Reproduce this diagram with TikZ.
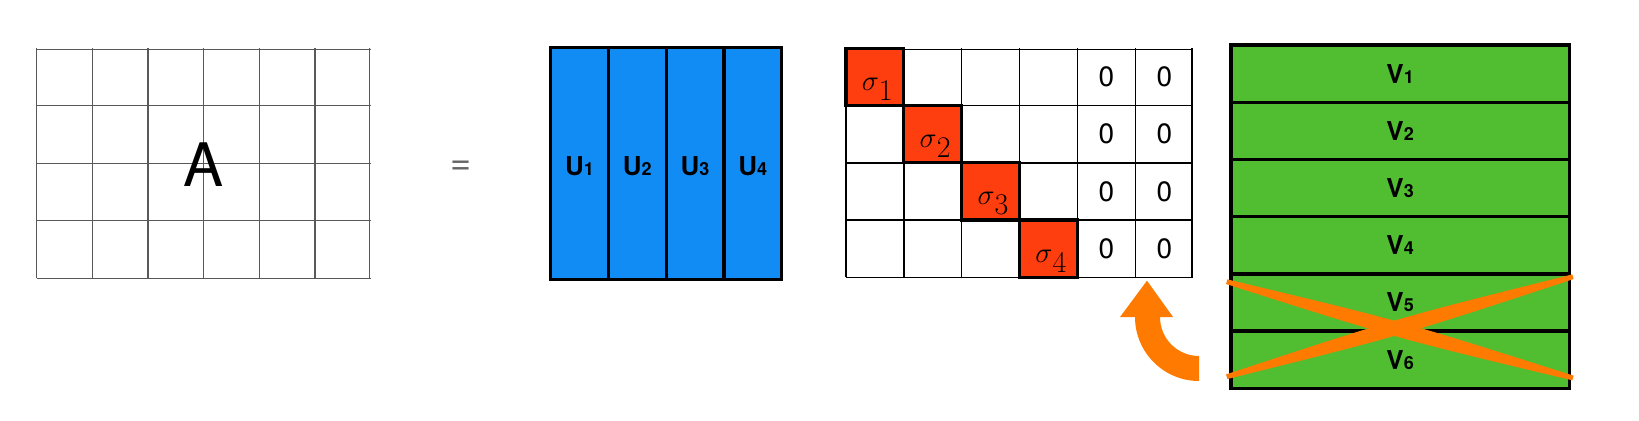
\documentclass[tikz,border=0pt]{standalone}
\usepackage{fontspec}
\setsansfont{TeX Gyre Heros}
\usepackage{tikz}
\usetikzlibrary{calc}

\definecolor{ublue}{RGB}{18,140,245}
\definecolor{vgreen}{RGB}{80,190,48}
\definecolor{sred}{RGB}{255,62,16}
\definecolor{xorange}{RGB}{255,122,0}

\newcommand{\veclab}[2]{#1{\fontsize{9}{9}\selectfont #2}}
\newcommand{\siglab}[1]{$\sigma$\raisebox{-5pt}{#1}}

\begin{document}
\begin{tikzpicture}[x=0.5pt,y=0.5pt,
        agrid/.style={draw=black!65,line width=0.6pt},
        sgrid/.style={draw=black,line width=0.7pt},
        heavy/.style={draw=black,line width=1.7pt},
        redcell/.style={fill=sred,draw=black,line width=1.6pt},
        veclabel/.style={font=\sffamily\bfseries\fontsize{13}{15}\selectfont},
        zero/.style={font=\sffamily\fontsize{14}{16}\selectfont},
        sigma/.style={anchor=base,font=\fontsize{15}{18}\selectfont}]
        \useasboundingbox (0,0) rectangle (1639,420);
        % A
        \begin{scope}[shift={(36.7,141.7)},xscale=55.67,yscale=57.5]
        \draw [agrid,step=1] (0,0) grid (6,4);
        \draw (3.005,1.97) node (A) {\sffamily\fontsize{30}{36}\selectfont A};
        \end{scope}
        \draw (461,252) node (eq) {\color{black!60}\sffamily\fontsize{18}{18}\selectfont =};
        % U
        \begin{scope}[shift={(550.7,140.7)},xscale=57.75,yscale=232]
        \fill [ublue] (0,0) rectangle (4,1);
        \draw [heavy] (1,0) -- (1,1) (2,0) -- (2,1) (3,0) -- (3,1);
        \draw [heavy] (0,0) rectangle (4,1);
        \draw (0.5,0.486) node [veclabel] (u1) {\veclab{U}{1}};
        \draw (1.5,0.486) node [veclabel] (u2) {\veclab{U}{2}};
        \draw (2.5,0.486) node [veclabel] (u3) {\veclab{U}{3}};
        \draw (3.5,0.486) node [veclabel] (u4) {\veclab{U}{4}};
        \end{scope}
        % Sigma
        \begin{scope}[shift={(846,142.7)},xscale=57.88,yscale=57.25]
        \draw [sgrid,step=1] (0,0) grid (6,4);
        \draw [redcell] (0,3) rectangle (1,4);
        \draw [redcell] (1,2) rectangle (2,3);
        \draw [redcell] (2,1) rectangle (3,2);
        \draw [redcell] (3,0) rectangle (4,1);
        \draw (0.54,3.266) node [sigma] (s1) {\siglab{1}};
        \draw (1.54,2.266) node [sigma] (s2) {\siglab{2}};
        \draw (2.54,1.266) node [sigma] (s3) {\siglab{3}};
        \draw (3.54,0.266) node [sigma] (s4) {\siglab{4}};
        \draw (4.5,3.5) node [zero] (z15) {0};
        \draw (5.5,3.5) node [zero] (z16) {0};
        \draw (4.5,2.5) node [zero] (z25) {0};
        \draw (5.5,2.5) node [zero] (z26) {0};
        \draw (4.5,1.5) node [zero] (z35) {0};
        \draw (5.5,1.5) node [zero] (z36) {0};
        \draw (4.5,0.5) node [zero] (z45) {0};
        \draw (5.5,0.5) node [zero] (z46) {0};
        \end{scope}
        % V
        \begin{scope}[shift={(1231,31.7)},xscale=338.3,yscale=57.22]
        \fill [vgreen] (0,0) rectangle (1,6);
        \draw [heavy] (0,1) -- (1,1) (0,2) -- (1,2) (0,3) -- (1,3) (0,4) -- (1,4) (0,5) -- (1,5);
        \draw [heavy] (0,0) rectangle (1,6);
        \draw (0.5,5.5) node [veclabel] (v1) {\veclab{V}{1}};
        \draw (0.5,4.5) node [veclabel] (v2) {\veclab{V}{2}};
        \draw (0.5,3.5) node [veclabel] (v3) {\veclab{V}{3}};
        \draw (0.5,2.5) node [veclabel] (v4) {\veclab{V}{4}};
        \draw (0.5,1.5) node [veclabel] (v5) {\veclab{V}{5}};
        \draw (0.5,0.5) node [veclabel] (v6) {\veclab{V}{6}};
        \end{scope}
        % cross over V5, V6
        \coordinate (x1a) at (1226.7,138.3);
        \coordinate (x1b) at (1573,42);
        \coordinate (x2a) at (1226.7,43.3);
        \coordinate (x2b) at (1573,143.3);
        \fill [xorange] ($(x1a)!1.2pt!90:(x1b)$) .. controls ($(x1a)!0.5!(x1b)!4.5pt!90:(x1b)$) .. ($(x1b)!1.2pt!-90:(x1a)$)
              -- ($(x1b)!1.2pt!90:(x1a)$) .. controls ($(x1a)!0.5!(x1b)!4.5pt!-90:(x1b)$) .. ($(x1a)!1.2pt!-90:(x1b)$) -- cycle;
        \fill [xorange] ($(x2a)!1.2pt!90:(x2b)$) .. controls ($(x2a)!0.5!(x2b)!4.5pt!90:(x2b)$) .. ($(x2b)!1.2pt!-90:(x2a)$)
              -- ($(x2b)!1.2pt!90:(x2a)$) .. controls ($(x2a)!0.5!(x2b)!4.5pt!-90:(x2b)$) .. ($(x2a)!1.2pt!-90:(x2b)$) -- cycle;
        % bent arrow
        \fill [xorange] (1120,103) -- (1147,139.3) -- (1173,103) -- (1160,103)
              arc [start angle=180,end angle=270,radius=39] -- (1199,39)
              arc [start angle=270,end angle=180,radius=64] -- cycle;
      \end{tikzpicture}
\end{document}
